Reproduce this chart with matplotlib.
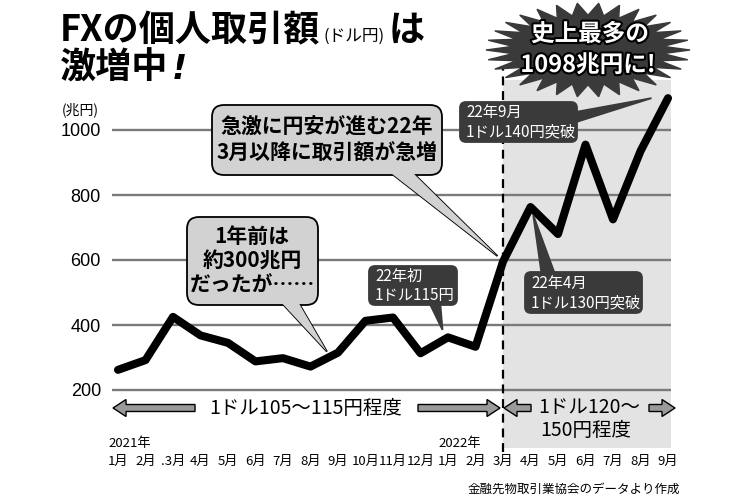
import matplotlib
matplotlib.use('Agg')
import matplotlib.pyplot as plt
import matplotlib.patheffects as pe
from matplotlib.patches import FancyBboxPatch, Polygon, FancyArrow
import numpy as np

plt.rcParams['font.family'] = ['Noto Sans CJK JP', 'DejaVu Sans']

# monthly FX volume (trillion yen), Jan 2021 - Sep 2022
months = ['1月', '2月', '.3月', '4月', '5月', '6月', '7月', '8月', '9月', '10月', '11月', '12月',
          '1月', '2月', '3月', '4月', '5月', '6月', '7月', '8月', '9月']
values = [262, 292, 425, 368, 345, 288, 298, 272, 315, 413, 423, 313,
          362, 333, 595, 763, 680, 955, 725, 935, 1098]
years = ['2021年', '2022年']
year_idx = [0, 12]
yticks = [200, 400, 600, 800, 1000]
split_idx = 14   # 2022年3月

W, H = 750, 500
fig = plt.figure(figsize=(7.5, 5), dpi=100)
fig.patch.set_facecolor('white')

# main axes, laid out in pixels
step = 27.5
ax = fig.add_axes([112 / W, 1 - 448 / H, (671 - 112) / W, (448 - 80) / H])
ax.set_xlim((112 - 118) / step, (671 - 118) / step)
ax.set_ylim(200 - (448 - 390) / 0.325, 200 + (390 - 80) / 0.325)
for s in ax.spines.values():
    s.set_visible(False)
ax.set_facecolor('none')

ax.axvspan(split_idx, ax.get_xlim()[1], color='#e3e3e3', lw=0, zorder=0)
for t in yticks:
    ax.axhline(t, color='#7a7a7a', lw=1.7, zorder=1)
ax.axvline(split_idx, ymin=-0.012, ymax=1.035, color='black', lw=1.6,
           dashes=(4, 2.6), clip_on=False, zorder=2)
ax.plot(range(len(values)), values, color='black', lw=5.8,
        solid_joinstyle='round', solid_capstyle='round', zorder=3, clip_on=False)

ax.set_yticks(yticks)
ax.set_yticklabels([str(t) for t in yticks], fontsize=13, family=['Liberation Sans'])
ax.set_xticks(range(len(months)))
ax.set_xticklabels(months, fontsize=9.5)
ax.tick_params(axis='both', length=0)
ax.tick_params(axis='y', pad=8)
ax.tick_params(axis='x', pad=5)

# overlay in pixel coordinates
ov = fig.add_axes([0, 0, 1, 1], zorder=5)
ov.set_xlim(0, W)
ov.set_ylim(H, 0)
ov.axis('off')


def to_px(x, v):
    dx, dy = ax.transData.transform((x, v))
    return dx, H - dy


renderer = fig.canvas.get_renderer()


def chain(parts, x, y):
    for s, size, kw, gap in parts:
        t = ov.text(x, y, s, fontsize=size, ha='left', va='baseline', **kw)
        x += t.get_window_extent(renderer).width + gap


# title
chain([('FXの個人取引額', 26, dict(weight='bold'), 3),
       ('(ドル円)', 12, dict(), 4),
       ('は', 26, dict(weight='bold'), 0)], 60, 41)
chain([('激増中', 26, dict(weight='bold'), 3),
       ('!', 24, dict(family=['DejaVu Sans'], weight='bold', style='italic'), 0)], 60, 79)

ov.text(80, 110, '(兆円)', fontsize=10, ha='center', va='center')


def callout(box, base, tip, fc, ec, r):
    x0, y0, x1, y1 = box
    tri = [base[0], tip, base[1]]
    ov.add_patch(Polygon(tri, closed=True, fc=fc, ec=ec, lw=1.3, zorder=3))
    ov.add_patch(FancyBboxPatch((x0, y0), x1 - x0, y1 - y0,
                                boxstyle=f'round,pad=0,rounding_size={r}',
                                fc=fc, ec=ec, lw=1.3, zorder=4))
    ov.add_patch(Polygon(tri, closed=True, fc=fc, ec='none', zorder=5))


# light callouts
callout((212, 105, 442, 175), [(387, 170), (410, 170)], to_px(13.8, 612), '#d2d2d2', 'black', 12)
ov.text(327, 140, '急激に円安が進む22年\n3月以降に取引額が急増', fontsize=15, weight='bold',
        ha='center', va='center', linespacing=1.25, zorder=6)
callout((187, 217, 318, 305), [(279, 300), (297, 300)], to_px(7.6, 318), '#d2d2d2', 'black', 12)
ov.text(252, 261, '1年前は\n約300兆円\nだったが……', fontsize=15, weight='bold',
        ha='center', va='center', linespacing=1.2, zorder=6)

# dark callouts
dark = '#3a3a3a'
callout((369, 266, 457, 305), [(428, 300), (440, 300)], to_px(11.8, 385), dark, dark, 6)
ov.text(375, 286, '22年初\n1ドル115円', fontsize=11, color='white',
        ha='left', va='center', linespacing=1.15, zorder=6)
callout((460, 102, 577, 142), [(570, 113), (570, 124)], to_px(19.4, 1098), dark, dark, 6)
ov.text(466, 122, '22年9月\n1ドル140円突破', fontsize=11, color='white',
        ha='left', va='center', linespacing=1.15, zorder=6)
callout((525, 272, 642, 313), [(542, 277), (556, 277)], to_px(15.1, 738), dark, dark, 6)
ov.text(531, 293, '22年4月\n1ドル130円突破', fontsize=11, color='white',
        ha='left', va='center', linespacing=1.15, zorder=6)

# starburst
n = 30
ang = np.linspace(0, 2 * np.pi, 2 * n, endpoint=False)
rad = np.where(np.arange(2 * n) % 2 == 0, 1.0, 0.74)
cx, cy = 588, 50
ov.add_patch(Polygon(np.column_stack([cx + 102 * rad * np.cos(ang), cy + 47 * rad * np.sin(ang)]),
                     closed=True, fc=dark, ec=dark, zorder=3))
stroke = [pe.withStroke(linewidth=3, foreground='black')]
ov.text(590, 34, '史上最多の', fontsize=17, weight='bold', color='white', ha='center',
        va='center', path_effects=stroke, zorder=6)
ov.text(588, 65, '1098兆円に!', fontsize=17, weight='bold', color='white', ha='center',
        va='center', path_effects=stroke, zorder=6)

# exchange-rate range arrows
xd = to_px(split_idx, 0)[0]
ay = 408
akw = dict(width=7, head_width=17, head_length=13, length_includes_head=True,
           fc='#9a9a9a', ec='black', lw=1, zorder=4)
ov.add_patch(FancyArrow(195, ay, 113 - 195, 0, **akw))
ov.add_patch(FancyArrow(418, ay, xd - 3 - 418, 0, **akw))
ov.add_patch(FancyArrow(531, ay, xd + 1 - 531, 0, **akw))
ov.add_patch(FancyArrow(649, ay, 675 - 649, 0, **akw))
ov.text(306, ay, '1ドル105〜115円程度', fontsize=14, ha='center', va='center', zorder=6)
ov.text(538, ay, '1ドル120〜', fontsize=14, ha='left', va='center', zorder=6)
ov.text(586, 431, '150円程度', fontsize=14, ha='center', va='center', zorder=6)

# years and source
for yl, i in zip(years, year_idx):
    ov.text(to_px(i, 0)[0] - 10, 444, yl, fontsize=9.5, ha='left', va='center')
ov.text(680, 489, '金融先物取引業協会のデータより作成', fontsize=9, ha='right', va='center')

fig.savefig('out.png', dpi=100)
